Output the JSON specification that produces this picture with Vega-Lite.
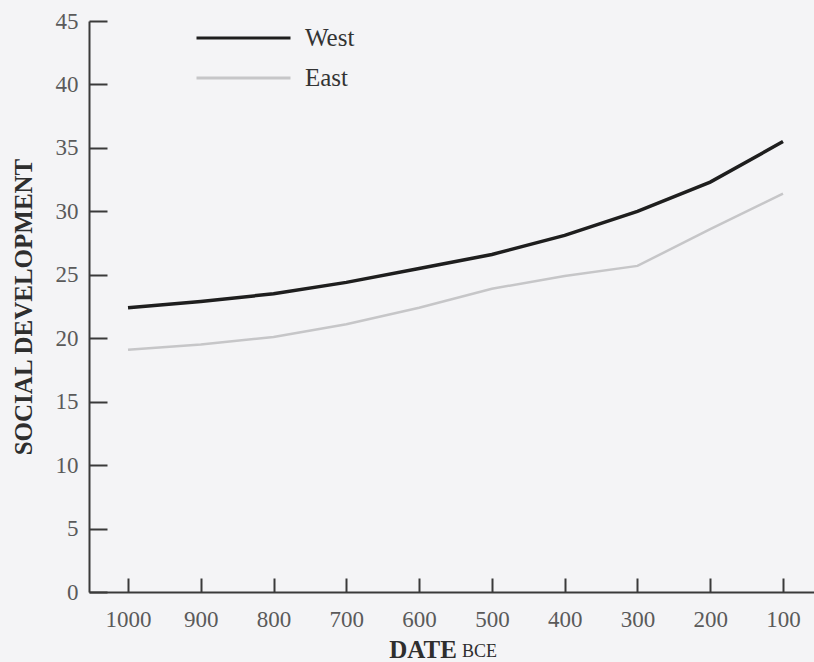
{
  "$schema": "https://vega.github.io/schema/vega-lite/v6.json",
  "width": 725,
  "height": 571,
  "autosize": {"type": "none"},
  "padding": {"left": 89, "top": 21, "right": 0, "bottom": 70},
  "background": "#f4f4f6",
  "config": {
    "view": {"stroke": null},
    "font": "Liberation Serif"
  },
  "datasets": {
    "series": [
      {"date": 1000, "series": "West", "value": 22.4},
      {"date": 900, "series": "West", "value": 22.9},
      {"date": 800, "series": "West", "value": 23.5},
      {"date": 700, "series": "West", "value": 24.4},
      {"date": 600, "series": "West", "value": 25.5},
      {"date": 500, "series": "West", "value": 26.6},
      {"date": 400, "series": "West", "value": 28.1},
      {"date": 300, "series": "West", "value": 30.0},
      {"date": 200, "series": "West", "value": 32.3},
      {"date": 100, "series": "West", "value": 35.5},
      {"date": 1000, "series": "East", "value": 19.1},
      {"date": 900, "series": "East", "value": 19.5},
      {"date": 800, "series": "East", "value": 20.1},
      {"date": 700, "series": "East", "value": 21.1},
      {"date": 600, "series": "East", "value": 22.4},
      {"date": 500, "series": "East", "value": 23.9},
      {"date": 400, "series": "East", "value": 24.9},
      {"date": 300, "series": "East", "value": 25.7},
      {"date": 200, "series": "East", "value": 28.6},
      {"date": 100, "series": "East", "value": 31.4}
    ],
    "unit": [{"label": "BCE"}]
  },
  "data": {"name": "series"},
  "layer": [
    {
      "encoding": {
        "x": {
          "field": "date",
          "type": "quantitative",
          "scale": {"domain": [57.4, 1053.6], "reverse": true, "nice": false, "zero": false},
          "axis": {
            "values": [1000, 900, 800, 700, 600, 500, 400, 300, 200, 100],
            "format": "d",
            "grid": false,
            "domainColor": "#3a3a3a",
            "domainWidth": 2,
            "tickColor": "#3a3a3a",
            "tickWidth": 2,
            "tickSize": -14,
            "labelPadding": 30,
            "labelFont": "Liberation Serif",
            "labelFontSize": 23,
            "labelColor": "#5a5a5a",
            "title": "DATE",
            "titleFont": "Liberation Serif",
            "titleFontSize": 25,
            "titleFontWeight": "bold",
            "titleColor": "#2e2e2e",
            "titleX": 333.5,
            "titleY": 65,
            "titleAlign": "center",
            "titleBaseline": "alphabetic"
          }
        },
        "y": {
          "field": "value",
          "type": "quantitative",
          "scale": {"domain": [0, 45], "nice": false},
          "axis": {
            "values": [0, 5, 10, 15, 20, 25, 30, 35, 40, 45],
            "grid": false,
            "domainColor": "#3a3a3a",
            "domainWidth": 2,
            "tickColor": "#3a3a3a",
            "tickWidth": 2,
            "tickSize": -18,
            "labelPadding": 29,
            "labelFont": "Liberation Serif",
            "labelFontSize": 23,
            "labelColor": "#5a5a5a",
            "title": "SOCIAL DEVELOPMENT",
            "titleFont": "Liberation Serif",
            "titleFontSize": 25,
            "titleFontWeight": "bold",
            "titleColor": "#2e2e2e",
            "titlePadding": 19
          }
        },
        "color": {
          "field": "series",
          "type": "nominal",
          "scale": {"domain": ["West", "East"], "range": ["#1e1e1e", "#c6c6c8"]},
          "legend": {
            "orient": "none",
            "legendX": 106,
            "legendY": 4,
            "title": null,
            "padding": 0,
            "direction": "vertical",
            "symbolType": "stroke",
            "symbolSize": 8836,
            "symbolStrokeWidth": 3,
            "clipHeight": 26,
            "rowPadding": 14,
            "labelOffset": 13,
            "labelFont": "Liberation Serif",
            "labelFontSize": 25,
            "labelColor": "#333333"
          }
        }
      },
      "layer": [
        {
          "transform": [{"filter": "datum.series === 'West'"}],
          "mark": {"type": "line", "strokeWidth": 3.5}
        },
        {
          "transform": [{"filter": "datum.series === 'East'"}],
          "mark": {"type": "line", "strokeWidth": 2.5}
        }
      ]
    },
    {
      "data": {"name": "unit"},
      "mark": {"type": "text", "align": "left", "baseline": "alphabetic", "font": "Liberation Serif", "fontSize": 18, "fill": "#2e2e2e", "clip": false},
      "encoding": {
        "x": {"datum": 541, "type": "quantitative"},
        "y": {"datum": -5.12, "type": "quantitative"},
        "text": {"field": "label"}
      }
    }
  ]
}
